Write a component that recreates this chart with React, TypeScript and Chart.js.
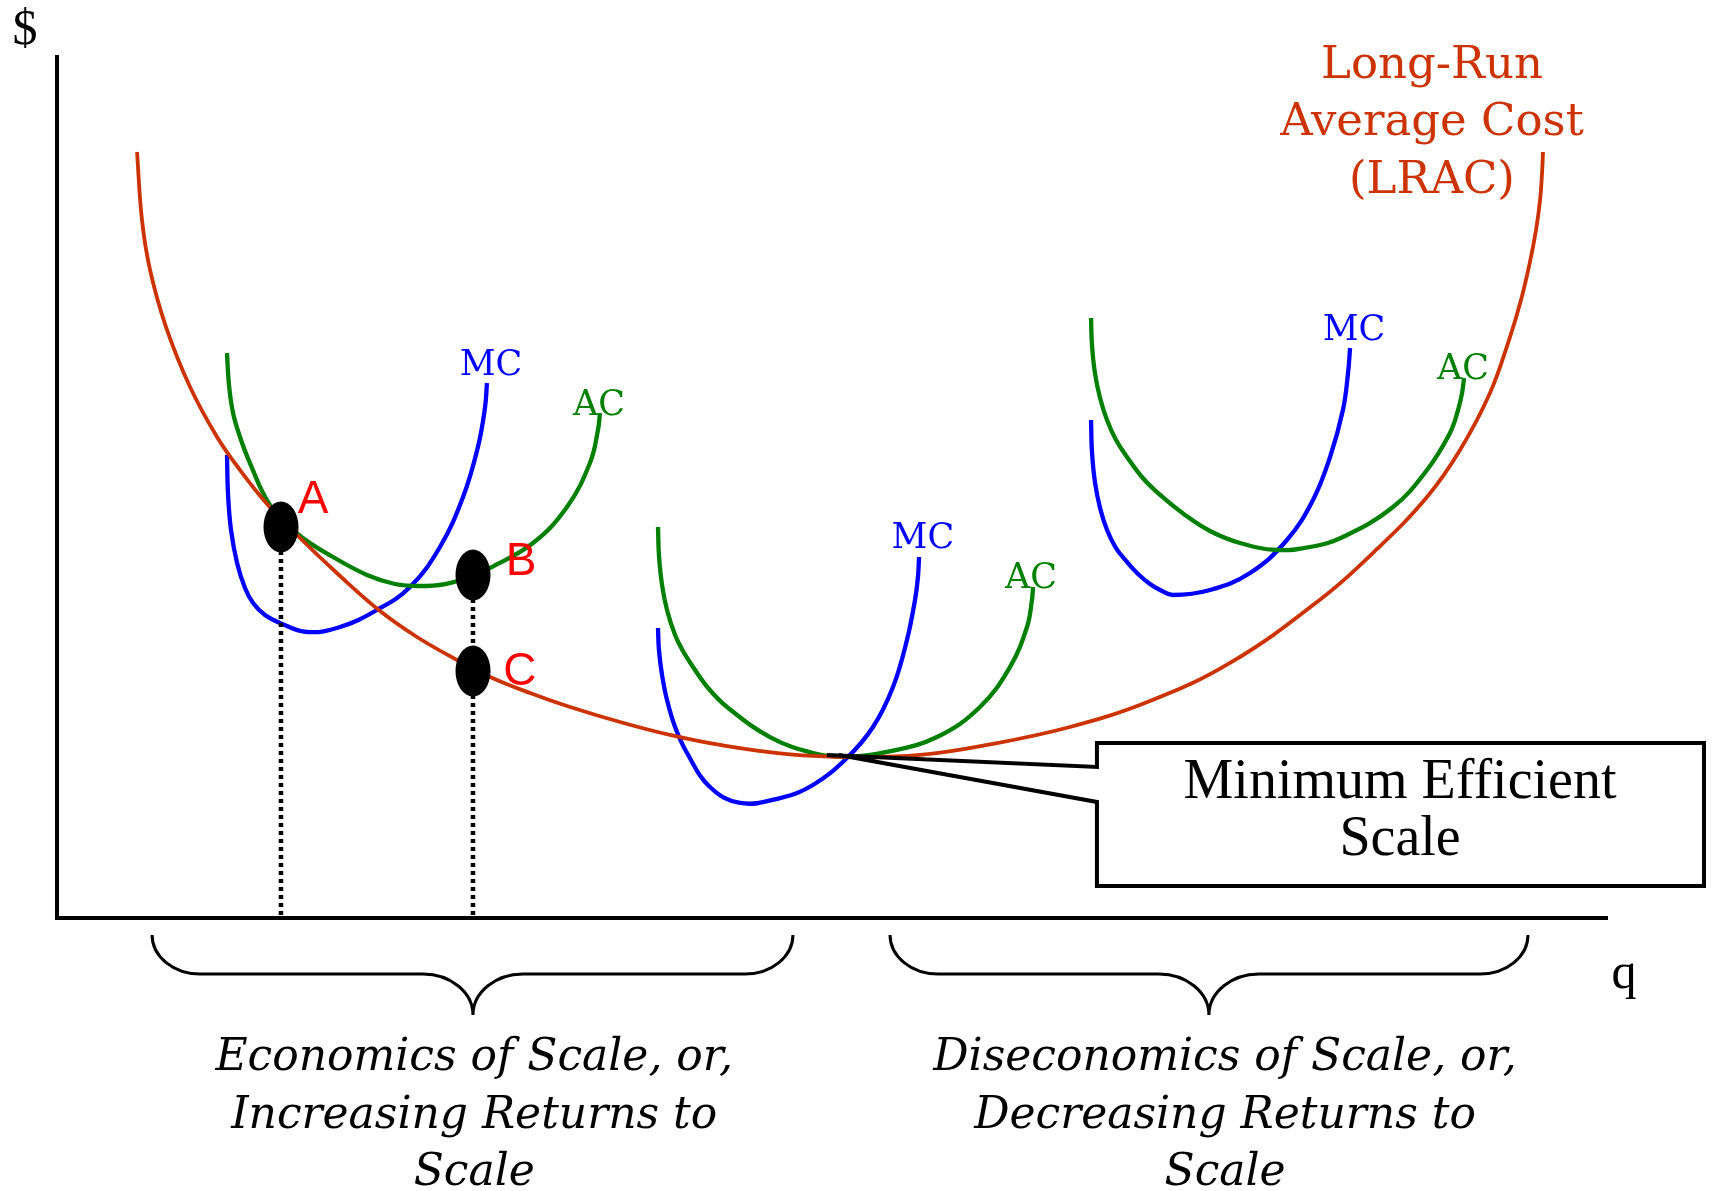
import React, { useEffect, useRef } from "react";
import { Chart, registerables } from "chart.js";
Chart.register(...registerables);

// ---- Data (q = quantity, cost = $) ----
const lracQ = [5.16, 5.48, 6.0, 7.03, 8.58, 10.32, 11.8, 13.6, 15.6, 18.25, 20.83, 23.21, 25.79, 27.92, 30.5, 32.88, 36.3, 39.52, 42.75, 47.07, 51.32, 55.64, 59.96, 65.31, 70.47, 75.63, 81.24, 85.11, 88.33, 90.46, 92.39, 93.68, 94.39, 94.97, 95.36, 95.62, 95.74, 95.81];
const lracCost = [88.76, 80.88, 75.09, 68.48, 61.53, 55.74, 51.91, 47.86, 44.15, 39.63, 35.57, 32.56, 29.9, 27.93, 26.07, 24.57, 22.71, 21.21, 20.05, 19.0, 18.66, 18.89, 20.05, 22.13, 25.14, 29.55, 36.62, 42.76, 48.78, 54.23, 60.83, 67.32, 71.61, 76.04, 79.72, 83.2, 86.09, 88.76];

const ac1Q = [10.96, 11.09, 11.35, 11.8, 12.44, 13.73, 15.6, 17.8, 19.99, 21.79, 23.4, 25.02, 26.63, 27.92, 30.69, 32.88, 34.36, 34.88, 35.01];
const ac1Cost = [65.47, 61.76, 58.52, 55.74, 52.72, 47.86, 44.38, 41.83, 39.75, 38.7, 38.47, 38.7, 39.51, 40.56, 43.45, 47.62, 52.72, 56.55, 58.52];
const mc1Q = [10.96, 11.03, 11.22, 11.61, 12.12, 12.64, 13.41, 14.38, 16.12, 18.25, 20.63, 22.76, 24.69, 26.18, 27.14, 27.6, 27.72];
const mc1Cost = [53.65, 49.02, 44.96, 41.14, 38.24, 36.5, 35.11, 34.18, 33.14, 33.72, 35.69, 38.35, 42.99, 48.78, 54.58, 59.21, 61.99];

const ac2Q = [38.75, 38.81, 39.01, 39.33, 39.85, 40.36, 41.01, 41.98, 43.2, 45.97, 48.74, 50.93, 53.51, 56.74, 59.51, 61.44, 62.54, 62.86, 62.93];
const ac2Cost = [45.31, 42.06, 38.59, 35.69, 32.79, 30.94, 29.08, 26.65, 24.45, 20.97, 19.12, 18.66, 19.24, 20.97, 24.45, 29.08, 33.72, 36.85, 38.35];
const mc2Q = [38.75, 38.81, 39.01, 39.33, 39.85, 40.62, 42.1, 44.04, 46.62, 48.74, 50.93, 52.61, 53.9, 54.8, 55.32, 55.51, 55.58];
const mc2Cost = [33.6, 31.05, 28.16, 25.26, 22.13, 19.12, 15.18, 13.33, 13.9, 15.41, 18.54, 22.13, 26.77, 32.21, 36.85, 39.51, 41.83];

const ac3Q = [66.67, 66.73, 66.92, 67.25, 67.7, 68.28, 68.99, 69.95, 71.12, 72.73, 74.34, 76.27, 78.66, 80.79, 82.91, 86.14, 88.33, 89.81, 90.33, 90.59, 90.72];
const ac3Cost = [69.52, 66.4, 63.15, 60.26, 57.71, 55.39, 53.42, 51.1, 49.02, 46.7, 44.84, 43.45, 42.64, 42.99, 44.15, 47.62, 51.91, 56.2, 58.86, 60.83, 62.57];
const mc3Q = [66.67, 66.73, 66.92, 67.25, 67.7, 68.28, 68.99, 69.7, 70.47, 71.12, 71.95, 74.34, 76.92, 79.3, 80.98, 82.08, 82.91, 83.24, 83.37];
const mc3Cost = [57.71, 54.0, 50.52, 47.51, 44.96, 42.87, 41.25, 39.86, 38.7, 38.01, 37.43, 38.01, 39.98, 43.8, 48.44, 53.42, 58.86, 63.15, 66.05];

const pointNames = ["A", "B", "C"];
const pointQ = [14.44, 26.82, 26.82];
const pointCost = [45.31, 39.74, 28.62];

const minEfficientQ = 49.64;
const minEfficientCost = 18.89;

const curveLabels = ["MC", "AC", "MC", "AC", "MC", "AC"];
const curveLabelQ = [27.98, 34.95, 55.83, 62.8, 83.62, 90.65];
const curveLabelCost = [62.92, 58.29, 42.87, 38.24, 66.98, 62.46];

const lracTitle = ["Long-Run", "Average Cost", "(LRAC)"];
const boxText = ["Minimum Efficient", "Scale"];
const leftRangeText = ["Economics of Scale, or,", "Increasing Returns to", "Scale"];
const rightRangeText = ["Diseconomics of Scale, or,", "Decreasing Returns to", "Scale"];

const ORANGE = "#CC3300";
const BLUE = "#0000FF";
const GREEN = "#008000";

const pts = (xs: number[], ys: number[]) => xs.map((x, i) => ({ x, y: ys[i] }));

function makeDot(w: number, h: number) {
  const c = document.createElement("canvas");
  c.width = w;
  c.height = h;
  const g = c.getContext("2d")!;
  g.fillStyle = "#000";
  g.beginPath();
  g.ellipse(w / 2, h / 2, w / 2 - 0.5, h / 2 - 0.5, 0, 0, Math.PI * 2);
  g.fill();
  return c;
}

const curve = (data: any[], color: string, width: number) => ({
  data,
  borderColor: color,
  borderWidth: width,
  showLine: true,
  pointRadius: 0,
  tension: 0.4,
  cubicInterpolationMode: "default",
  fill: false,
  clip: false,
});

const annotationPlugin = {
  id: "annotations",
  afterDraw(chart: any) {
    const ctx = chart.ctx as CanvasRenderingContext2D;
    const X = (v: number) => chart.scales.x.getPixelForValue(v);
    const Y = (v: number) => chart.scales.y.getPixelForValue(v);
    ctx.save();

    // axes
    ctx.strokeStyle = "#000";
    ctx.lineWidth = 4;
    ctx.beginPath();
    ctx.moveTo(X(0), Y(100));
    ctx.lineTo(X(0), Y(0) + 2);
    ctx.moveTo(X(0) - 2, Y(0));
    ctx.lineTo(X(100), Y(0));
    ctx.stroke();

    // axis titles
    ctx.fillStyle = "#000";
    ctx.textAlign = "center";
    ctx.textBaseline = "alphabetic";
    ctx.font = '50px "Liberation Serif"';
    ctx.fillText("$", X(-2.06), Y(101.3));
    ctx.fillText("q", X(101.03), Y(-8.11));

    // curve labels
    ctx.font = '35px "DejaVu Serif"';
    curveLabels.forEach((t, i) => {
      ctx.fillStyle = t === "MC" ? BLUE : GREEN;
      ctx.fillText(t, X(curveLabelQ[i]), Y(curveLabelCost[i]));
    });

    // LRAC title
    ctx.fillStyle = ORANGE;
    ctx.font = '45px "DejaVu Serif"';
    const lracBase = [97.33, 90.73, 84.01];
    lracTitle.forEach((t, i) => ctx.fillText(t, X(88.65), Y(lracBase[i])));

    // point labels
    ctx.fillStyle = "#FF0000";
    ctx.font = '46px "Liberation Sans"';
    const lblQ = [16.51, 29.92, 29.85];
    const lblC = [46.93, 39.74, 27.0];
    pointNames.forEach((t, i) => ctx.fillText(t, X(lblQ[i]), Y(lblC[i])));

    // minimum efficient scale callout
    const bl = X(67.05), br = X(106.19), bt = Y(20.28), bb = Y(3.71);
    const j1 = Y(17.5), j2 = Y(13.44);
    const px = X(minEfficientQ), py = Y(minEfficientCost);
    ctx.strokeStyle = "#000";
    ctx.lineWidth = 4;
    ctx.lineJoin = "miter";
    ctx.beginPath();
    ctx.moveTo(px, py);
    ctx.lineTo(bl, j1);
    ctx.lineTo(bl, bt);
    ctx.lineTo(br, bt);
    ctx.lineTo(br, bb);
    ctx.lineTo(bl, bb);
    ctx.lineTo(bl, j2);
    ctx.lineTo(px + 12, py);
    ctx.stroke();
    ctx.fillStyle = "#000";
    ctx.font = '56px "Liberation Serif"';
    ctx.fillText(boxText[0], X(86.59), Y(13.9));
    ctx.fillText(boxText[1], X(86.59), Y(7.3));

    // braces
    const brace = (ql: number, qr: number, qt: number) => {
      const xl = X(ql), xr = X(qr), xt = X(qt);
      const yTop = Y(-1.97), yMid = Y(-6.49), yTip = Y(-11.24);
      const h = yMid - yTop, w = 48, tw = 50, th = yTip - yMid;
      const k = 0.552;
      ctx.beginPath();
      ctx.moveTo(xl, yTop);
      ctx.bezierCurveTo(xl, yTop + h * k, xl + w * (1 - k), yMid, xl + w, yMid);
      ctx.lineTo(xt - tw, yMid);
      ctx.bezierCurveTo(xt - tw + tw * k, yMid, xt, yTip - th * k, xt, yTip);
      ctx.moveTo(xr, yTop);
      ctx.bezierCurveTo(xr, yTop + h * k, xr - w * (1 - k), yMid, xr - w, yMid);
      ctx.lineTo(xt + tw, yMid);
      ctx.bezierCurveTo(xt + tw - tw * k, yMid, xt, yTip - th * k, xt, yTip);
      ctx.stroke();
    };
    ctx.lineWidth = 3;
    brace(6.13, 47.45, 26.82);
    brace(53.71, 94.84, 74.27);

    ctx.font = 'italic 44px "DejaVu Serif"';
    const textBase = [-17.61, -24.33, -30.94];
    leftRangeText.forEach((t, i) => ctx.fillText(t, X(26.9), Y(textBase[i])));
    rightRangeText.forEach((t, i) => ctx.fillText(t, X(75.31), Y(textBase[i])));

    ctx.restore();
  },
};

export default function App() {
  const ref = useRef<HTMLCanvasElement>(null);
  useEffect(() => {
    const dot = makeDot(36, 52);
    const chart = new Chart(ref.current!, {
      type: "scatter",
      data: {
        datasets: [
          {
            data: pts(pointQ, pointCost),
            pointStyle: dot,
            pointRadius: 18,
            showLine: false,
            clip: false,
          } as any,
          {
            data: [{ x: pointQ[0], y: pointCost[0] }, { x: pointQ[0], y: 0 }],
            borderColor: "#000",
            borderWidth: 4.5,
            borderDash: [4, 4],
            showLine: true,
            pointRadius: 0,
          } as any,
          {
            data: [{ x: pointQ[1], y: pointCost[1] }, { x: pointQ[1], y: 0 }],
            borderColor: "#000",
            borderWidth: 4.5,
            borderDash: [4, 4],
            showLine: true,
            pointRadius: 0,
          } as any,
          curve(pts(lracQ, lracCost), ORANGE, 3.8),
          curve(pts(ac1Q, ac1Cost), GREEN, 4.3),
          curve(pts(mc1Q, mc1Cost), BLUE, 4.3),
          curve(pts(ac2Q, ac2Cost), GREEN, 4.3),
          curve(pts(mc2Q, mc2Cost), BLUE, 4.3),
          curve(pts(ac3Q, ac3Cost), GREEN, 4.3),
          curve(pts(mc3Q, mc3Cost), BLUE, 4.3),
        ] as any,
      },
      options: {
        animation: false,
        responsive: false,
        maintainAspectRatio: false,
        events: [],
        layout: { padding: { left: 57, top: 55, right: 104, bottom: 273 } },
        plugins: { legend: { display: false }, tooltip: { enabled: false } },
        scales: {
          x: { type: "linear", min: 0, max: 100, display: false },
          y: { type: "linear", min: 0, max: 100, display: false },
        },
      } as any,
      plugins: [annotationPlugin],
    });
    return () => chart.destroy();
  }, []);
  return (
    <div style={{ position: "fixed", left: 0, top: 0, width: 1712, height: 1191, background: "#fff" }}>
      <canvas ref={ref} width={1712} height={1191} style={{ display: "block", width: 1712, height: 1191 }} />
    </div>
  );
}
